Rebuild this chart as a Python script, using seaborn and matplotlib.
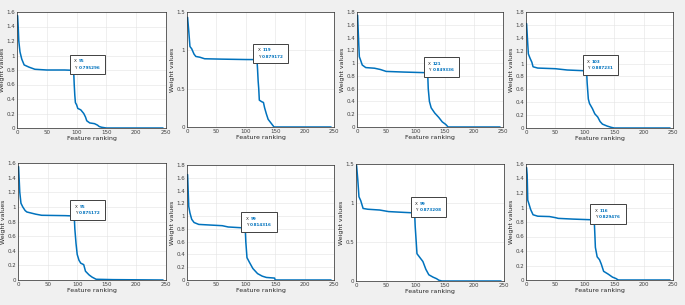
import matplotlib
matplotlib.use("Agg")
import pandas as pd
import seaborn as sns
import matplotlib.pyplot as plt
from matplotlib.offsetbox import TextArea, HPacker, VPacker, AnnotationBbox

# feature ranking / weight values
p1_x = [1, 2, 3, 5, 8, 12, 20, 30, 50, 80, 95, 96, 97, 98, 100, 102, 107, 112, 115, 117, 122, 130, 135, 138, 142, 150, 245]
p1_y = [1.55, 1.4, 1.2, 1.05, 0.95, 0.87, 0.84, 0.81, 0.80, 0.80, 0.795296, 0.6, 0.45, 0.35, 0.32, 0.27, 0.25, 0.2, 0.15, 0.1, 0.07, 0.06, 0.04, 0.02, 0.01, 0.0, 0.0]
p2_x = [1, 3, 5, 8, 12, 15, 22, 30, 60, 100, 119, 120, 121, 122, 123, 127, 130, 132, 135, 138, 142, 146, 148, 245]
p2_y = [1.43, 1.25, 1.05, 1.02, 0.95, 0.92, 0.91, 0.89, 0.885, 0.88, 0.879172, 0.75, 0.6, 0.5, 0.35, 0.33, 0.32, 0.25, 0.17, 0.1, 0.06, 0.02, 0.0, 0.0]
p3_x = [1, 3, 4, 6, 9, 15, 30, 40, 50, 80, 121, 122, 124, 127, 133, 140, 146, 152, 154, 156, 245]
p3_y = [1.75, 1.3, 1.1, 1.05, 0.97, 0.93, 0.92, 0.9, 0.87, 0.86, 0.849336, 0.6, 0.4, 0.3, 0.22, 0.15, 0.08, 0.04, 0.02, 0.0, 0.0]
p4_x = [1, 3, 4, 7, 10, 12, 20, 50, 70, 103, 104, 106, 108, 113, 117, 122, 126, 130, 138, 145, 150, 245]
p4_y = [1.62, 1.3, 1.15, 1.08, 1.02, 0.95, 0.93, 0.92, 0.9, 0.887231, 0.7, 0.45, 0.38, 0.3, 0.22, 0.17, 0.1, 0.06, 0.03, 0.01, 0.0, 0.0]
p5_x = [1, 3, 5, 8, 12, 15, 30, 40, 80, 95, 96, 98, 100, 103, 106, 111, 114, 120, 125, 132, 160, 245]
p5_y = [1.55, 1.2, 1.05, 1.0, 0.95, 0.93, 0.9, 0.885, 0.88, 0.875172, 0.7, 0.5, 0.35, 0.27, 0.23, 0.21, 0.12, 0.07, 0.04, 0.01, 0.005, 0.0]
p6_x = [1, 2, 3, 5, 8, 12, 20, 40, 60, 70, 99, 100, 102, 106, 112, 120, 128, 135, 149, 150, 245]
p6_y = [1.65, 1.4, 1.15, 1.05, 0.95, 0.9, 0.87, 0.86, 0.85, 0.83, 0.814316, 0.6, 0.35, 0.28, 0.18, 0.1, 0.06, 0.04, 0.03, 0.0, 0.0]
p7_x = [1, 3, 5, 8, 12, 20, 40, 55, 80, 99, 100, 103, 108, 113, 118, 123, 130, 136, 140, 145, 245]
p7_y = [1.48, 1.3, 1.08, 1.03, 0.93, 0.92, 0.91, 0.89, 0.88, 0.873208, 0.7, 0.35, 0.3, 0.25, 0.15, 0.08, 0.05, 0.03, 0.01, 0.0, 0.0]
p8_x = [1, 2, 3, 5, 8, 12, 20, 40, 50, 55, 80, 116, 117, 118, 121, 125, 128, 132, 140, 147, 153, 157, 245]
p8_y = [1.55, 1.45, 1.1, 1.05, 0.97, 0.9, 0.88, 0.875, 0.86, 0.85, 0.84, 0.829476, 0.65, 0.45, 0.32, 0.28, 0.22, 0.12, 0.08, 0.04, 0.02, 0.0, 0.0]

tip_x = [95, 119, 121, 103, 95, 99, 99, 116]
tip_y = ["0.795296", "0.879172", "0.849336", "0.887231", "0.875172", "0.814316", "0.873208", "0.829476"]
y_max = [1.6, 1.5, 1.8, 1.8, 1.6, 1.8, 1.5, 1.6]
y_step = [0.2, 0.5, 0.2, 0.2, 0.2, 0.2, 0.5, 0.2]

curves = [(p1_x, p1_y), (p2_x, p2_y), (p3_x, p3_y), (p4_x, p4_y),
          (p5_x, p5_y), (p6_x, p6_y), (p7_x, p7_y), (p8_x, p8_y)]

# axes boxes in pixels: left, top, right, bottom
boxes = [(17, 12, 166, 128), (187, 12, 334, 127), (357, 12, 503, 127), (526, 12, 673, 128),
         (18, 163, 166, 280), (187, 165, 334, 280), (356, 164, 504, 281), (526, 164, 673, 280)]

W, H = 685, 305
blue = "#0072BD"

sns.set_theme(style="whitegrid")
plt.rcParams["font.family"] = ["DejaVu Sans"]

fig = plt.figure(figsize=(W / 100, H / 100), dpi=100, facecolor="#f0f0f0")


def fmt(v):
    s = f"{v:.1f}".rstrip("0").rstrip(".")
    return s


for i in range(8):
    l, t, r, b = boxes[i]
    ax = fig.add_axes([l / W, 1 - b / H, (r - l) / W, (b - t) / H])
    ax.set_facecolor("white")
    df = pd.DataFrame({"rank": curves[i][0], "weight": curves[i][1]})
    sns.lineplot(data=df, x="rank", y="weight", ax=ax, color=blue, linewidth=1.1)
    ax.set_xlim(0, 250)
    ax.set_ylim(0, y_max[i])
    ax.set_xticks([0, 50, 100, 150, 200, 250])
    yt = [round(k * y_step[i], 2) for k in range(int(round(y_max[i] / y_step[i])) + 1)]
    ax.set_yticks(yt)
    ax.set_yticklabels([fmt(v) for v in yt])
    ax.tick_params(labelsize=4, colors="#404040", length=1.5, width=0.4, pad=1.5, direction="in")
    ax.grid(True, color="#e3e3e3", linewidth=0.4)
    for sp in ax.spines.values():
        sp.set_color("#262626")
        sp.set_linewidth(0.5)
    ax.set_xlabel("Feature ranking", fontsize=4.5, labelpad=1, color="#262626")
    ax.set_ylabel("Weight values", fontsize=4.5, labelpad=1, color="#262626")

    # data tip
    xi = tip_x[i]
    yi = float(tip_y[i])
    ax.plot([xi], [yi], marker="s", markersize=1.5, color="#202020", zorder=5)
    row1 = HPacker(children=[TextArea("X", textprops=dict(fontsize=3.0, color="#202020")),
                             TextArea(str(xi), textprops=dict(fontsize=3.0, color=blue, weight="bold"))],
                   pad=0, sep=1.2)
    row2 = HPacker(children=[TextArea("Y", textprops=dict(fontsize=3.0, color="#202020")),
                             TextArea(tip_y[i], textprops=dict(fontsize=3.0, color=blue, weight="bold"))],
                   pad=0, sep=1.2)
    tip = VPacker(children=[row1, row2], pad=0, sep=1.8, align="left")
    ab = AnnotationBbox(tip, (xi, yi), xybox=(0.5, 0.5), boxcoords="offset points",
                        box_alignment=(0, 0), pad=0.45, frameon=True,
                        bboxprops=dict(edgecolor="#404040", linewidth=0.7, facecolor="white",
                                       boxstyle="square"))
    ab.set_zorder(6)
    ax.add_artist(ab)

fig.savefig("out.png", dpi=100, facecolor=fig.get_facecolor())
